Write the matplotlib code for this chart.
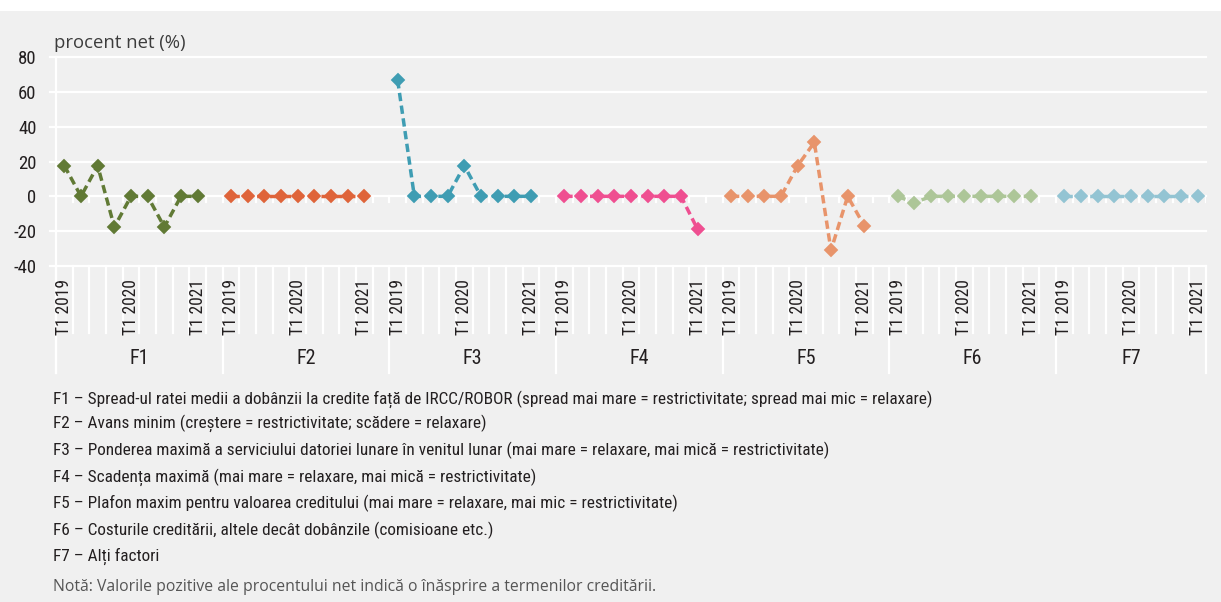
#!/usr/bin/env python3
"""Net percentage of credit standards factors, F1..F7, 2019Q1-2021Q1."""

import matplotlib
matplotlib.use("Agg")
import matplotlib.pyplot as plt
import matplotlib.transforms as mtransforms
from matplotlib import font_manager as fm
import numpy as np

W, H = 1221, 602
BG = "#f0f0f0"
TEXT = "#231f20"

# ── Data ──
groups = ["F1", "F2", "F3", "F4", "F5", "F6", "F7"]
quarters = ["T1 2019", "", "", "", "T1 2020", "", "", "", "T1 2021"]
f1 = [17.6, 0, 17.6, -17.6, 0, 0, -17.6, 0, 0]
f2 = [0, 0, 0, 0, 0, 0, 0, 0, 0]
f3 = [66.7, 0, 0, 0, 17.6, 0, 0, 0, 0]
f4 = [0, 0, 0, 0, 0, 0, 0, 0, -19.0]
f5 = [0, 0, 0, 0, 17.6, 31.0, -31.0, 0, -17.0]
f6 = [0, -3.7, 0, 0, 0, 0, 0, 0, 0]
f7 = [0, 0, 0, 0, 0, 0, 0, 0, 0]
series = [f1, f2, f3, f4, f5, f6, f7]
colors = ["#617a35", "#df643a", "#3f9db3", "#ef4f91", "#e8946b", "#adc698", "#93c4d3"]

legend_lines = [
    "F1 – Spread-ul ratei medii a dobânzii la credite față de IRCC/ROBOR (spread mai mare = restrictivitate; spread mai mic = relaxare)",
    "F2 – Avans minim (creștere = restrictivitate; scădere = relaxare)",
    "F3 – Ponderea maximă a serviciului datoriei lunare în venitul lunar (mai mare = relaxare, mai mică = restrictivitate)",
    "F4 – Scadența maximă (mai mare = relaxare, mai mică = restrictivitate)",
    "F5 – Plafon maxim pentru valoarea creditului (mai mare = relaxare, mai mic = restrictivitate)",
    "F6 – Costurile creditării, altele decât dobânzile (comisioane etc.)",
    "F7 – Alți factori",
]
note = "Notă: Valorile pozitive ale procentului net indică o înăsprire a termenilor creditării."


# ── Fonts: the narrowest regular sans we can find ──
def pick_narrow():
    fonts = fm.fontManager.ttflist
    regular = [f for f in fonts if f.weight in (400, "normal", "regular") and f.style == "normal"]
    for name in ["Roboto Condensed", "Liberation Sans Narrow", "Open Sans Condensed",
                 "Noto Sans Condensed", "Lato Condensed"]:
        for f in regular:
            if f.name == name:
                return fm.FontProperties(fname=f.fname)
    for f in regular:
        if f.stretch in ("condensed", "semi-condensed", "extra-condensed") and "Sans" in f.name \
                and "Mono" not in f.name:
            return fm.FontProperties(fname=f.fname)
    return fm.FontProperties(family="DejaVu Sans")


NARROW = pick_narrow()
PLAIN = fm.FontProperties(family=["Open Sans", "DejaVu Sans"])

GROUP_LEN = 10          # 9 quarters + one blank slot
n_cat = GROUP_LEN * (len(groups) - 1) + len(quarters)

fig = plt.figure(figsize=(W / 100, H / 100), dpi=100)
fig.patch.set_facecolor(BG)
fig.patches.append(plt.Rectangle((0, 1 - 11 / H), 1, 11 / H, transform=fig.transFigure,
                                 facecolor="white", edgecolor="none", zorder=0))

ax = fig.add_axes([56 / W, 1 - 266 / H, 1150 / W, 209 / H])
ax.set_facecolor(BG)
ax.set_xlim(-0.5, n_cat - 0.5)
ax.set_ylim(-40, 80)
for s in ax.spines.values():
    s.set_visible(False)
ax.tick_params(axis="both", length=0)
ax.set_xticks([])

yticks = np.arange(-40, 81, 20)
ax.set_yticks(yticks)
ax.set_yticklabels([str(v) for v in yticks])
ax.tick_params(axis="y", pad=14)
for lab in ax.get_yticklabels():
    lab.set_fontproperties(NARROW)
    lab.set_fontsize(13.5)
    lab.set_color(TEXT)

trans = mtransforms.blended_transform_factory(ax.transAxes, ax.transData)
for v in yticks:
    ax.plot([-6 / 1150, 1], [v, v], transform=trans, color="white", lw=1.6,
            clip_on=False, zorder=1)

# y axis line
ax.plot([0, 0], [1, -107 / 209], transform=ax.transAxes, color="white", lw=1.6,
        clip_on=False, zorder=1)

# category boundary ticks
bx = mtransforms.blended_transform_factory(ax.transData, ax.transAxes)
for b in np.arange(-0.5, n_cat, 1.0):
    is_div = (b + 0.5) % GROUP_LEN == 0 or b == n_cat - 0.5
    low = -107 / 209 if is_div else -67 / 209
    ax.plot([b, b], [0, low], transform=bx, color="white", lw=1.6,
            clip_on=False, zorder=1)
    ax.plot([b, b], [0, -3.4], color="white", lw=1.6, zorder=1)

# series
qlabels, glabels = [], []
for gi, (vals, col) in enumerate(zip(series, colors)):
    x = np.arange(len(vals)) + gi * GROUP_LEN
    line, = ax.plot(x, vals, color=col, lw=2.5, ls="--", zorder=3)
    line.set_dashes((2.4, 1.3))
    ax.plot(x, vals, ls="none", marker="D", ms=7.3, color=col, mec=col, mew=0.3,
            zorder=4)
    for qi, q in enumerate(quarters):
        if q:
            qlabels.append(ax.text(qi + gi * GROUP_LEN, -13 / 209, q, transform=bx,
                                   rotation=90, ha="center", va="top",
                                   fontproperties=NARROW, color=TEXT))
    span_end = min((gi + 1) * GROUP_LEN, n_cat) - 0.5
    cx = (gi * GROUP_LEN - 0.5 + span_end) / 2
    glabels.append(ax.text(cx, -93 / 209, groups[gi], transform=bx, ha="center",
                           va="center", fontproperties=NARROW, fontsize=14.5,
                           color=TEXT))

title = fig.text(54 / W, 1 - 43 / H, "procent net (%)", ha="left", va="center",
                 fontproperties=PLAIN, color="#3c3c3c")

ys = [399, 423, 450, 477, 503, 530, 556]
foot = []
for yy, t in zip(ys, legend_lines):
    foot.append(fig.text(53 / W, 1 - yy / H, t, ha="left", va="center",
                         fontproperties=NARROW, color=TEXT))
note_t = fig.text(53 / W, 1 - 587 / H, note, ha="left", va="center",
                  fontproperties=PLAIN, color="#555555")

# ── size the text to the widths measured on the original ──
fig.canvas.draw()
rend = fig.canvas.get_renderer()


def fit(texts, ref, target, vertical=False):
    for _ in range(3):
        bb = ref.get_window_extent(rend)
        size = ref.get_fontsize() * target / (bb.height if vertical else bb.width)
        for t in texts:
            t.set_fontsize(size)


fit(foot, foot[0], 885)
fit(qlabels, qlabels[0], 56, vertical=True)
fit([title], title, 131)
fit([note_t], note_t, 602)

fig.savefig("out.png", dpi=100, facecolor=BG)
